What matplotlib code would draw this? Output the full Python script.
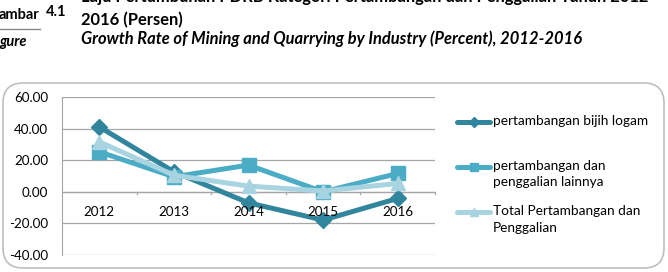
import matplotlib
matplotlib.use("Agg")
import matplotlib.pyplot as plt
from matplotlib.patches import FancyBboxPatch

plt.rcParams['font.family'] = ['Lato', 'DejaVu Sans']

# data
years = ['2012', '2013', '2014', '2015', '2016']
bijih_logam = [41.1, 12.7, -7.0, -17.9, -4.2]
lainnya = [25.3, 9.5, 16.9, 0.0, 11.6]
total = [31.6, 10.5, 3.6, 0.5, 5.3]
labels = ['pertambangan bijih logam',
          'pertambangan dan\npenggalian lainnya',
          'Total Pertambangan dan\nPenggalian']
colors = ['#31859C', '#4BACC6', '#A8D3E0']
markers = ['D', 's', '^']
yticks = [-40, -20, 0, 20, 40, 60]

fig = plt.figure(figsize=(6.68, 2.72), dpi=100)
W, H = 668, 272

# heading
hs = 11.9
fig.text(81 / W, 1 + 3 / H, 'Laju Pertumbuhan PDRB Kategori Pertambangan dan Penggalian Tahun 2012-',
         fontsize=hs, fontweight='bold', va='center', ha='left')
fig.text(81 / W, 1 - 20 / H, '2016 (Persen)', fontsize=hs, fontweight='bold', va='center', ha='left')
fig.text(81 / W, 1 - 39 / H, 'Growth Rate of Mining and Quarrying by Industry (Percent), 2012-2016',
         fontsize=hs, fontweight='bold', style='italic', va='center', ha='left')
fig.text(-1 / W, 1 - 15 / H, 'ambar', fontsize=10.5, fontweight='bold', va='center', ha='left')
fig.text(46 / W, 1 - 12 / H, '4.1', fontsize=10.5, fontweight='bold', va='center', ha='left')
fig.text(-1 / W, 1 - 42 / H, 'gure', fontsize=10.5, fontweight='bold', style='italic', va='center', ha='left')
fig.add_artist(plt.Line2D([0, 40 / W], [1 - 29 / H] * 2, color='#888888', lw=1))

# chart frame
fig.add_artist(FancyBboxPatch((3 / W, 4 / H), 661 / W, 185 / H,
                              boxstyle='round,pad=0,rounding_size=0.03',
                              transform=fig.transFigure, fc='none', ec='#BFBFBF', lw=1.2,
                              mutation_aspect=W / H))

ax = fig.add_axes([62 / W, 17 / H, 373 / W, 158 / H])
x = range(len(years))
for vals, c, m, lab in zip([bijih_logam, lainnya, total], colors, markers, labels):
    ax.plot(x, vals, color=c, lw=3.6, marker=m, ms=10 if m != 'D' else 8.5,
            label=lab, solid_joinstyle='round', zorder=3)

ax.set_xlim(-0.5, len(years) - 0.5)
ax.set_ylim(-40, 60)
ax.set_yticks(yticks)
ax.set_yticklabels([f'{v:.2f}' for v in yticks], fontsize=9.6)
ax.yaxis.grid(True, color='#A6A6A6', lw=0.9)
ax.tick_params(axis='y', length=0, pad=10)
ax.set_xticks([])
for s in ['top', 'right', 'bottom']:
    ax.spines[s].set_visible(False)
ax.spines['left'].set_color('#A6A6A6')
ax.axhline(0, color='#A6A6A6', lw=0.9)
for i in range(1, len(years) + 1):
    ax.plot([i - 0.5, i - 0.5], [0, -1.6], color='#A6A6A6', lw=0.9, clip_on=False)
for i, yr in enumerate(years):
    ax.text(i, -12.5, yr, ha='center', va='center', fontsize=9.6)

# legend, handle aligned with the first text line
leg_y = [122, 167, 212]
for yy, c, m, lab in zip(leg_y, colors, markers, labels):
    fy = 1 - yy / H
    fig.add_artist(plt.Line2D([457 / W, 490 / W], [fy, fy], color=c, lw=3.6,
                              solid_capstyle='round'))
    fig.add_artist(plt.Line2D([473.5 / W], [fy], color=c, marker=m, ms=5.5, ls='none'))
    fig.text(493 / W, fy + 7 / H, lab, fontsize=9.8, va='top', ha='left', linespacing=1.45)

fig.savefig('out.png', dpi=100)
